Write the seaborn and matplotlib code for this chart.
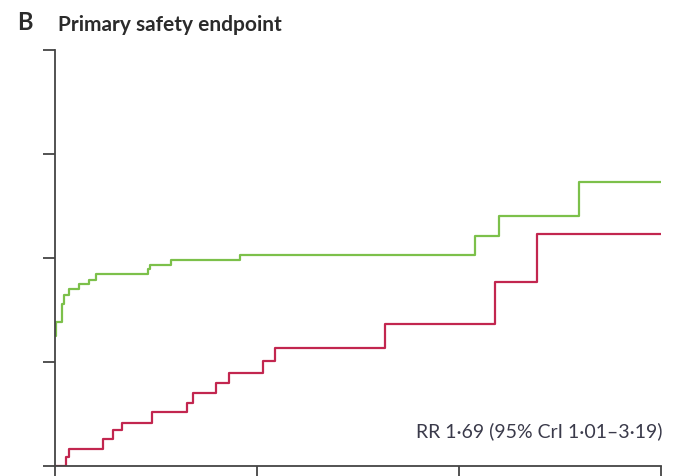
import numpy as np
import pandas as pd
import matplotlib
matplotlib.use("Agg")
import matplotlib.pyplot as plt
import seaborn as sns

# step curves (x in years, y in %)
green_x = [0.005, 0.007, 0.036, 0.045, 0.071, 0.120, 0.167, 0.203, 0.462, 0.470, 0.573, 0.916, 2.079, 2.200, 2.596, 3.008]
green_y = [6.25, 6.92, 7.79, 8.22, 8.51, 8.76, 8.94, 9.22, 9.46, 9.65, 9.90, 10.16, 11.06, 12.02, 13.67, 13.67]

red_x = [0.0, 0.054, 0.071, 0.239, 0.289, 0.330, 0.479, 0.653, 0.685, 0.795, 0.859, 1.028, 1.089, 1.634, 2.178, 2.385, 3.008]
red_y = [0.0, 0.42, 0.83, 1.28, 1.72, 2.08, 2.60, 3.04, 3.50, 4.01, 4.49, 5.06, 5.69, 6.83, 8.86, 11.15, 11.15]

x_ticks = [0, 1, 2, 3]
y_ticks = [0, 5, 10, 15, 20]

sns.set_style("white")
plt.rcParams['font.family'] = ['Lato', 'DejaVu Sans']

fig = plt.figure(figsize=(6.75, 4.76), dpi=100)
ax = fig.add_axes([55/675, 10/476, (661-55)/675, (466-50)/476])

dg = pd.DataFrame({"x": green_x, "y": green_y})
dr = pd.DataFrame({"x": red_x, "y": red_y})
sns.lineplot(data=dg, x="x", y="y", ax=ax, color="#7cc04a", lw=1.6, drawstyle="steps-post")
sns.lineplot(data=dr, x="x", y="y", ax=ax, color="#c2264f", lw=1.6, drawstyle="steps-post")

ax.set_xlim(0, 3)
ax.set_ylim(0, 20)
ax.set_xticks(x_ticks)
ax.set_yticks(y_ticks)
ax.tick_params(direction="out", length=9, width=1.3, color="#444444",
               labelleft=False, labelbottom=False, left=True, bottom=True)
ax.set_xlabel("")
ax.set_ylabel("")
for s in ["top", "right"]:
    ax.spines[s].set_visible(False)
for s in ["left", "bottom"]:
    ax.spines[s].set_color("#444444")
    ax.spines[s].set_linewidth(1.3)

fig.text(17/675, 1 - 22/476, "B", fontsize=17, fontweight="bold", color="#2b2b2b", va="center")
fig.text(58/675, 1 - 25/476, "Primary safety endpoint", fontsize=15, fontweight="bold",
         color="#2b2b2b", va="center")
ax.text(1.003, 0.083, "RR 1\u00b769 (95% CrI 1\u00b701\u20133\u00b719)", transform=ax.transAxes,
        ha="right", va="center", fontsize=14, color="#3a3a4a")

fig.savefig("out.png", dpi=100)
